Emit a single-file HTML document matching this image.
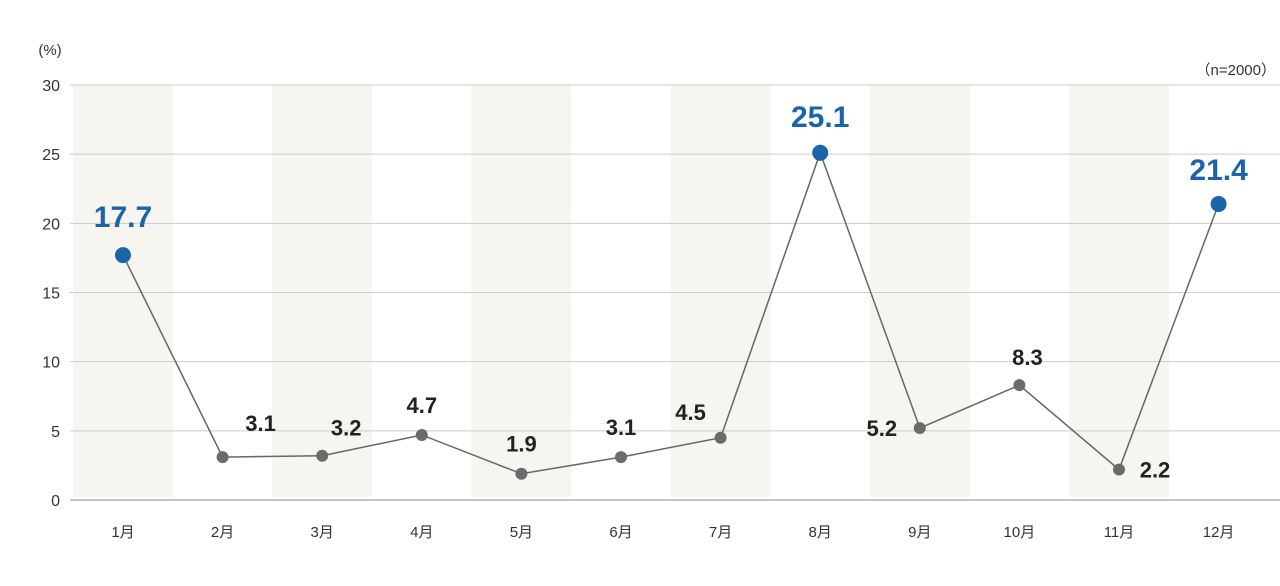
<!DOCTYPE html>
<html><head><meta charset="utf-8"><style>
body{margin:0;background:#fff;}
svg text{font-family:"Liberation Sans","Noto Sans CJK JP",sans-serif;}
</style></head><body>
<svg id="chart" width="1280" height="581" viewBox="0 0 1280 581" xmlns="http://www.w3.org/2000/svg">
<text x="50" y="55" font-size="15" fill="#333" text-anchor="middle">(%)</text>
<text x="1276" y="75" font-size="15" fill="#333" text-anchor="end">（n=2000）</text>
<g id="bands"></g><g id="grid"></g><g id="line"></g><g id="marks"></g>
</svg>
<script>
const categories=["1月","2月","3月","4月","5月","6月","7月","8月","9月","10月","11月","12月"];
const values=[17.7,3.1,3.2,4.7,1.9,3.1,4.5,25.1,5.2,8.3,2.2,21.4];
const highlighted=[true,false,false,false,false,false,false,true,false,false,false,true];
const yTicks=[0,5,10,15,20,25,30];
const labelDx=[0,38,24,0,0,0,-30,0,-38,8,36,0];
const labelDy=[-28,-26,-20,-22,-22,-22,-18,-26,-0,-20,0,-24];
const NS="http://www.w3.org/2000/svg";
const svg=document.getElementById('chart');
const x=i=>123+i*99.6;
const y=v=>500-v*(415/30);
function mk(t,a,p){const e=document.createElementNS(NS,t);for(const k in a)e.setAttribute(k,a[k]);document.getElementById(p).appendChild(e);return e;}
categories.forEach((c,i)=>{
  if(i%2===0){const b=mk('rect',{x:x(i)-50,y:y(30),width:100,height:y(0)-y(30)-3,fill:'#f7f5f0'},'bands');
  
  }
  const t=mk('text',{x:x(i),y:537,'font-size':15,fill:'#333','text-anchor':'middle'},'marks');
  
  
  t.textContent=c;
});
yTicks.forEach(v=>{
  const l=mk('line',{x1:70,x2:1280,y1:y(v),y2:y(v),stroke:v===0?'#888':'#ccc','stroke-width':1},'grid');
  
  
  const t=mk('text',{x:60,y:y(v)+6,'font-size':16,fill:'#333','text-anchor':'end'},'grid');
  
  
  t.textContent=v;
});
const pl=mk('polyline',{points:values.map((v,i)=>x(i)+','+y(v)).join(' '),fill:'none',stroke:'#666','stroke-width':1.5},'line');


values.forEach((v,i)=>{
  const h=highlighted[i];
  const c=mk('circle',{cx:x(i),cy:y(v),r:h?8:6,fill:h?'#1a64a8':'#6b6b6b'},'marks');
  
  
  const t=mk('text',{x:x(i)+labelDx[i],y:y(v)+labelDy[i]+(labelDy[i]===0?8:0),'font-size':h?30:22,'font-weight':'bold',fill:h?'#1a64a8':'#222','text-anchor':'middle'},'marks');
  
  
  t.textContent=v.toFixed(1);
});
</script>
</body></html>
